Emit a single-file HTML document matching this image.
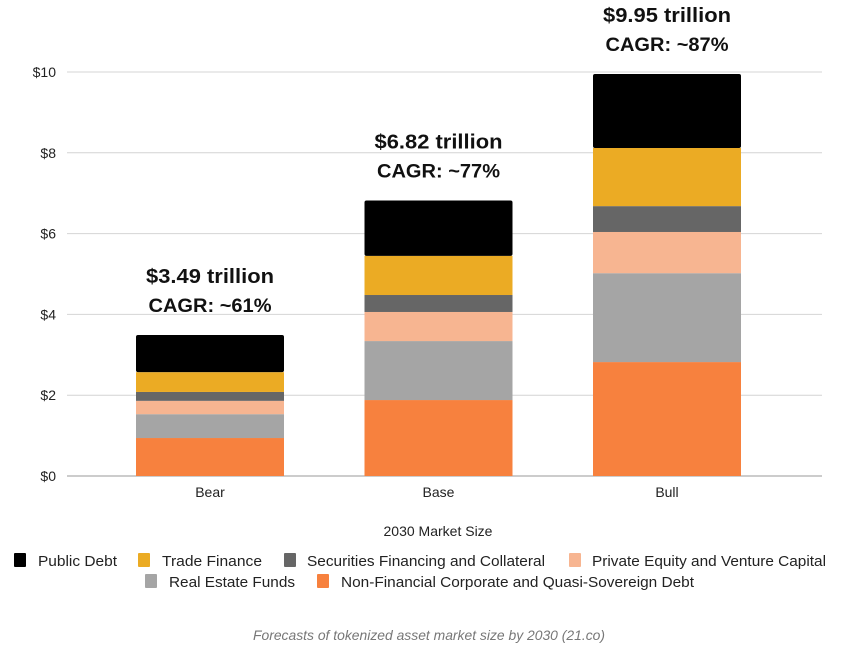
<!DOCTYPE html>
<html><head><meta charset="utf-8"><style>
body{margin:0;background:#fff;}
svg{display:block;font-family:"Liberation Sans",sans-serif;}
</style></head><body>
<svg id="chart" width="841" height="655" viewBox="0 0 841 655"></svg>
<script>
const categories=["Bear","Base","Bull"];
const seriesNames=["Non-Financial Corporate and Quasi-Sovereign Debt","Real Estate Funds","Private Equity and Venture Capital","Securities Financing and Collateral","Trade Finance","Public Debt"];
const nonFinancial=[0.94,1.88,2.82];
const realEstate=[0.59,1.46,2.20];
const privateEquity=[0.33,0.72,1.02];
const securities=[0.22,0.42,0.64];
const tradeFinance=[0.49,0.97,1.44];
const publicDebt=[0.92,1.37,1.83];
const totals=["$3.49 trillion","$6.82 trillion","$9.95 trillion"];
const cagr=["CAGR: ~61%","CAGR: ~77%","CAGR: ~87%"];
const yTicks=[0,2,4,6,8,10];
const yTickLabels=["$0","$2","$4","$6","$8","$10"];
const colors=["#f7813e","#a5a5a5","#f7b591","#666666","#ebab24","#000000"];
const series=[nonFinancial,realEstate,privateEquity,securities,tradeFinance,publicDebt];
const NS="http://www.w3.org/2000/svg";
const svg=document.getElementById('chart');
function y(v){return 476-v*40.4;}
function xc(i){return 210+i*228.5;}
function mk(t,a,p){const e=document.createElementNS(NS,t);for(const k in a)e.setAttribute(k,a[k]);(p||svg).appendChild(e);return e;}
yTicks.forEach((t,i)=>{
  const g=mk('line',{x1:67,x2:822,y1:y(t),y2:y(t),stroke:i==0?'#999':'#d4d4d4','stroke-width':1});
  
  
  const l=mk('text',{x:56,y:y(t)+5,'text-anchor':'end','font-size':14,fill:'#222'});
  l.textContent=yTickLabels[i];
  
  
});
categories.forEach((c,i)=>{
  let base=0;
  series.forEach((s,j)=>{
    const v=s[i];
    const r=mk('rect',{x:xc(i)-74,y:y(base+v),width:148,height:v*40.4,fill:colors[j],rx:j==5?2:0});
    
    
    base+=v;
  });
  const top=y(base);
  const t1=mk('text',{x:xc(i),y:top-52,'text-anchor':'middle','font-size':20,'font-weight':'bold',fill:'#111',textLength:128,lengthAdjust:'spacingAndGlyphs'});
  t1.textContent=totals[i];
  
  
  const t2=mk('text',{x:xc(i),y:top-23,'text-anchor':'middle','font-size':19,'font-weight':'bold',fill:'#111',textLength:123,lengthAdjust:'spacingAndGlyphs'});
  t2.textContent=cagr[i];
  
  
  const cl=mk('text',{x:xc(i),y:497,'text-anchor':'middle','font-size':14,fill:'#222'});
  cl.textContent=c;
  
  
});
const xt=mk('text',{x:438,y:536,'text-anchor':'middle','font-size':14,fill:'#222'});
xt.textContent="2030 Market Size";


const legend=[[5,14,38,79,565],[4,138,162,100,565],[3,284,307,238,565],[2,569,592,234,565],[1,145,169,126,586],[0,317,341,353,586]];
legend.forEach(L=>{
  const r=mk('rect',{x:L[1],y:L[4]-12,width:12,height:14,fill:colors[L[0]],rx:1});
  
  
  const t=mk('text',{x:L[2],y:L[4]+1,'font-size':15,fill:'#222',textLength:L[3],lengthAdjust:'spacingAndGlyphs'});
  t.textContent=seriesNames[L[0]];
  
  
});
const cap=mk('text',{x:429,y:640,'text-anchor':'middle','font-size':14,'font-style':'italic',fill:'#777',textLength:352,lengthAdjust:'spacingAndGlyphs'});
cap.textContent="Forecasts of tokenized asset market size by 2030 (21.co)";


</script>
</body></html>
